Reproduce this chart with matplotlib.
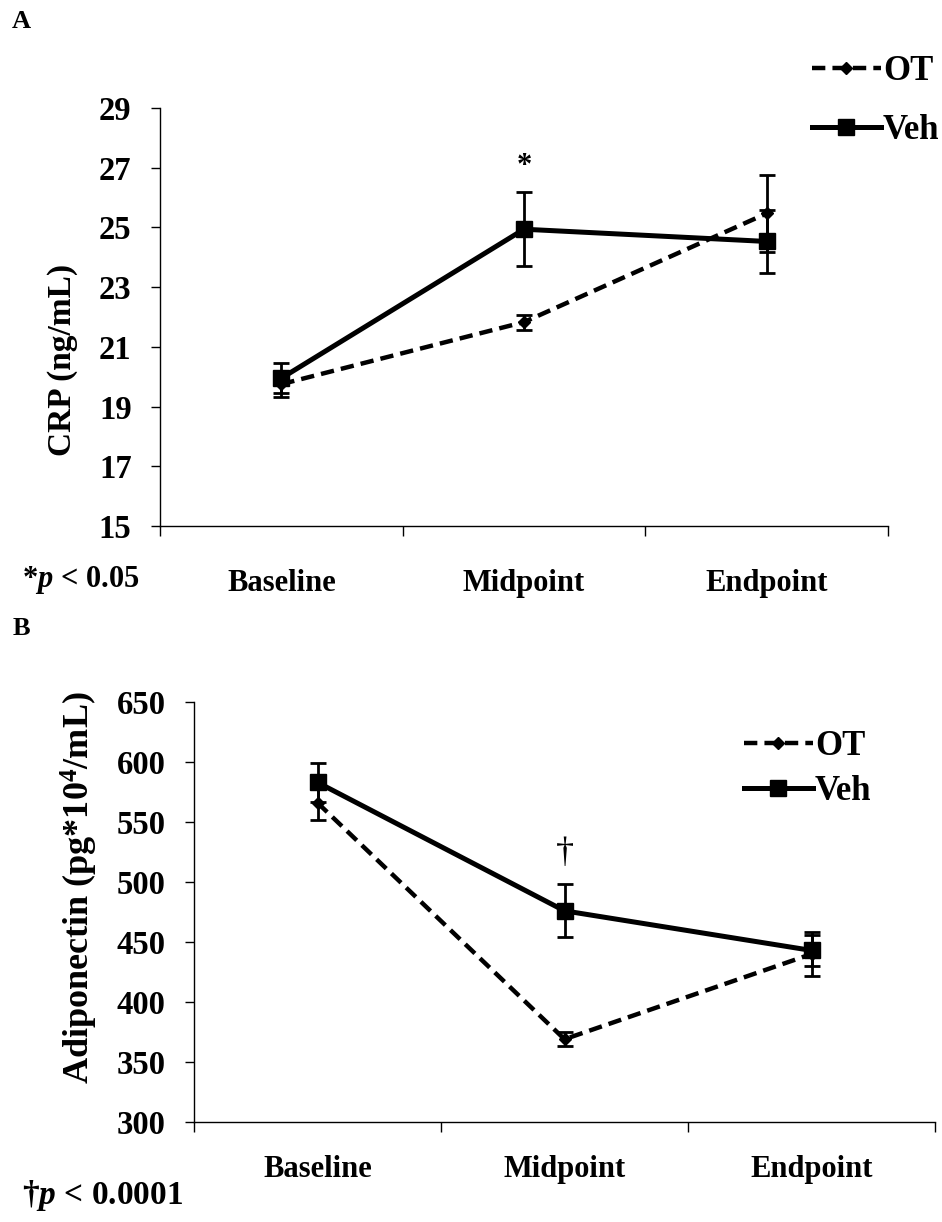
import numpy as np
import matplotlib.pyplot as plt

plt.rcParams['font.family'] = ['Liberation Serif', 'DejaVu Serif']
plt.rcParams['font.weight'] = 'bold'
plt.rcParams['mathtext.fontset'] = 'custom'
plt.rcParams['mathtext.rm'] = 'Liberation Serif:bold'
plt.rcParams['mathtext.bf'] = 'Liberation Serif:bold'
plt.rcParams['mathtext.it'] = 'Liberation Serif:bold:italic'

timepoints = ["Baseline", "Midpoint", "Endpoint"]

# panel A: CRP (ng/mL)
crp_ot = [19.75, 21.83, 25.47]
crp_ot_err = [0.42, 0.25, 1.3]
crp_veh = [19.95, 24.94, 24.53]
crp_veh_err = [0.5, 1.24, 1.04]

# panel B: adiponectin (pg*10^4/mL)
adipo_ot = [566, 369, 440]
adipo_ot_err = [14, 6, 18]
adipo_veh = [583, 476, 443]
adipo_veh_err = [16, 22, 13]

fig = plt.figure(figsize=(9.42, 12.22), dpi=100)
xpos = np.arange(len(timepoints)) + 0.5


def draw_panel(ax, ot, ot_err, veh, veh_err, xpad):
    c1 = ax.errorbar(xpos, ot, yerr=ot_err, color='black', ls=(0, (3, 1.6)), lw=3.2,
                     marker='D', ms=6, capsize=6, elinewidth=2, capthick=2, label='OT')
    c2 = ax.errorbar(xpos, veh, yerr=veh_err, color='black', ls='-', lw=3.6,
                     marker='s', ms=11, capsize=6, elinewidth=2, capthick=2, label='Veh')
    ax.set_xlim(0, 3)
    ax.set_xticks([0, 1, 2, 3])
    ax.set_xticklabels([])
    ax.set_xticks(xpos, minor=True)
    ax.set_xticklabels(timepoints, minor=True, fontsize=22, fontweight='bold')
    ax.tick_params(axis='x', which='minor', length=0, pad=xpad)
    ax.tick_params(axis='x', which='major', length=7, width=1, direction='out')
    ax.tick_params(axis='y', length=6.5, width=1, direction='out', labelsize=23.5, pad=14)
    for lab in ax.get_yticklabels():
        lab.set_fontweight('bold')
    for s in ['top', 'right']:
        ax.spines[s].set_visible(False)
    ax.spines['left'].set_linewidth(1)
    ax.spines['bottom'].set_linewidth(1)
    return [c1.lines[0], c2.lines[0]]


# ---- panel A
ax1 = fig.add_axes([0.1699, 0.5696, 0.7728, 0.342])
h = draw_panel(ax1, crp_ot, crp_ot_err, crp_veh, crp_veh_err, 31)
ax1.set_ylim(15, 29)
ax1.set_yticks(np.arange(15, 30, 2))
ax1.set_ylabel("CRP (ng/mL)", fontsize=24, fontweight='bold')
ax1.yaxis.set_label_coords(-0.113, 0.397)
ax1.text(xpos[1], 27.05, "*", ha='center', va='center', fontsize=22)
ax1.legend(handles=h, labels=['OT', 'Veh'], loc='upper left', bbox_to_anchor=(0.876, 1.16),
           frameon=False, fontsize=25, handlelength=2.0, handletextpad=0.05,
           labelspacing=0.75, borderaxespad=0)
fig.text(0.013, 0.982, "A", fontsize=19, fontweight='bold', va='center')
fig.text(0.023, 0.525, r"*$p$ < 0.05", fontsize=22, fontweight='bold', va='center')

# ---- panel B
ax2 = fig.add_axes([0.206, 0.0818, 0.7866, 0.3437])
h = draw_panel(ax2, adipo_ot, adipo_ot_err, adipo_veh, adipo_veh_err, 24)
ax2.set_ylim(300, 650)
ax2.set_yticks(np.arange(300, 651, 50))
ax2.set_ylabel("Adiponectin (pg*10$^{4}$/mL)", fontsize=26, fontweight='bold')
ax2.yaxis.set_label_coords(-0.127, 0.557)
ax2.text(xpos[1], 524, "\u2020", ha='center', va='center', fontsize=26, fontweight='normal')
ax2.legend(handles=h, labels=['OT', 'Veh'], loc='upper left', bbox_to_anchor=(0.723, 0.967),
           frameon=False, fontsize=25, handlelength=2.0, handletextpad=0.05,
           labelspacing=0.35, borderaxespad=0)
fig.text(0.013, 0.486, "B", fontsize=19, fontweight='bold', va='center')
fig.text(0.023, 0.022, "\u2020" + r"$p$ < 0.0001", fontsize=24, fontweight='bold', va='center')

fig.savefig("out.png", dpi=100)
